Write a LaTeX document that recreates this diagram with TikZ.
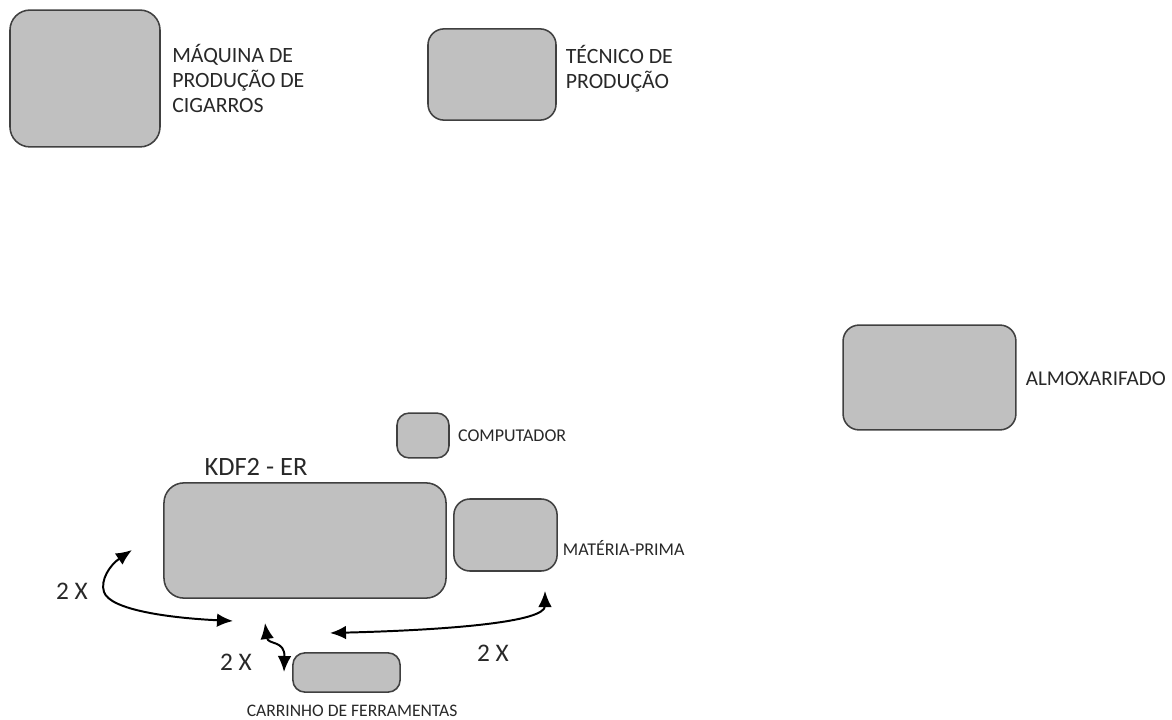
\documentclass[tikz,border=0pt]{standalone}
\usepackage{fontspec}
\setmainfont{Carlito}
\usepackage{xcolor}
\usepackage{tikz}
\usetikzlibrary{positioning}
\usetikzlibrary{arrows.meta}

\definecolor{boxgray}{RGB}{192,192,192}
\definecolor{edgegray}{RGB}{64,64,64}
\definecolor{txtgray}{RGB}{40,40,40}

\begin{document}
\begin{tikzpicture}[
    x = .025cm,
    y = -.025cm,
    >={Latex[length=4mm,width=3.4mm]},
    areaf/.style = {
      rectangle,
      draw=edgegray,
      fill=boxgray,
      line width=1.1pt,
      rounded corners=4mm,
      inner sep=0pt
    },
    labelf/.style = {
      text=txtgray,
      inner sep=0pt,
      align=left,
      font=\fontsize{15.5}{17.8}\selectfont
    },
    smallf/.style = {
      text=txtgray,
      inner sep=0pt,
      font=\fontsize{12.8}{15}\selectfont
    },
    timesf/.style = {
      text=txtgray,
      inner sep=0pt,
      font=\fontsize{18}{20}\selectfont
    },
    flow/.style = {
      <->,
      line width=1.4pt,
      draw=black
    }
  ]
    \useasboundingbox (0,0) rectangle (1172,720);

    % areas
    \node[areaf, minimum width=3.75cm, minimum height=3.42cm, rounded corners=5mm] (maq) at (85,78.5) {};
    \node[areaf, minimum width=3.2cm, minimum height=2.28cm] (tec) at (492,74.5) {};
    \node[areaf, minimum width=4.32cm, minimum height=2.62cm] (alm) at (929.5,377.5) {};
    \node[areaf, minimum width=1.3cm, minimum height=1.12cm, rounded corners=3mm] (comp) at (423,435.5) {};
    \node[areaf, minimum width=7.05cm, minimum height=2.88cm, rounded corners=5mm] (kdf) at (305,540.5) {};
    \node[areaf, minimum width=2.58cm, minimum height=1.8cm] (mp) at (505.5,535) {};
    \node[areaf, minimum width=2.68cm, minimum height=0.98cm, rounded corners=3mm] (car) at (346.5,672.5) {};

    % labels
    \node[labelf, right=0.28cm of maq] (maqlbl) {MÁQUINA DE\\PRODUÇÃO DE\\CIGARROS};
    \node[labelf, right=0.22cm of tec, yshift=0.14cm] (teclbl) {TÉCNICO DE\\PRODUÇÃO};
    \node[labelf, right=0.22cm of alm, yshift=-0.04cm, font=\fontsize{15}{17}\selectfont] (almlbl) {ALMOXARIFADO};
    \node[smallf, right=0.2cm of comp] (complbl) {COMPUTADOR};
    \node[smallf, right=0.12cm of mp, yshift=-0.33cm] (mplbl) {MATÉRIA-PRIMA};
    \node[smallf, below=0.3cm of car, xshift=0.14cm, font=\fontsize{12.5}{15}\selectfont] (carlbl) {CARRINHO DE FERRAMENTAS};
    \node[text=txtgray, inner sep=0pt, font=\fontsize{18.8}{21}\selectfont] (kdflbl) at (256,467) {KDF2 - ER};

    % movements
    \coordinate (a1s) at (132,550);
    \coordinate (a1e) at (233,621);
    \coordinate (a2s) at (265,623);
    \coordinate (a2e) at (284,672);
    \coordinate (a3s) at (330,633);
    \coordinate (a3e) at (545,591);

    \draw[flow] (a1s) .. controls (110,565) and (100,580) .. (104,592)
                      .. controls (110,610) and (170,618) .. (a1e);
    \draw[flow] (a2s) .. controls (268,645) and (285,640) .. (a2e);
    \draw[flow] (a3s) .. controls (450,630) and (545,622) .. (a3e);

    \node[timesf] (x1) at (72,591) {2 X};
    \node[timesf] (x2) at (236,662) {2 X};
    \node[timesf] (x3) at (493,653) {2 X};

  \end{tikzpicture}
\end{document}
